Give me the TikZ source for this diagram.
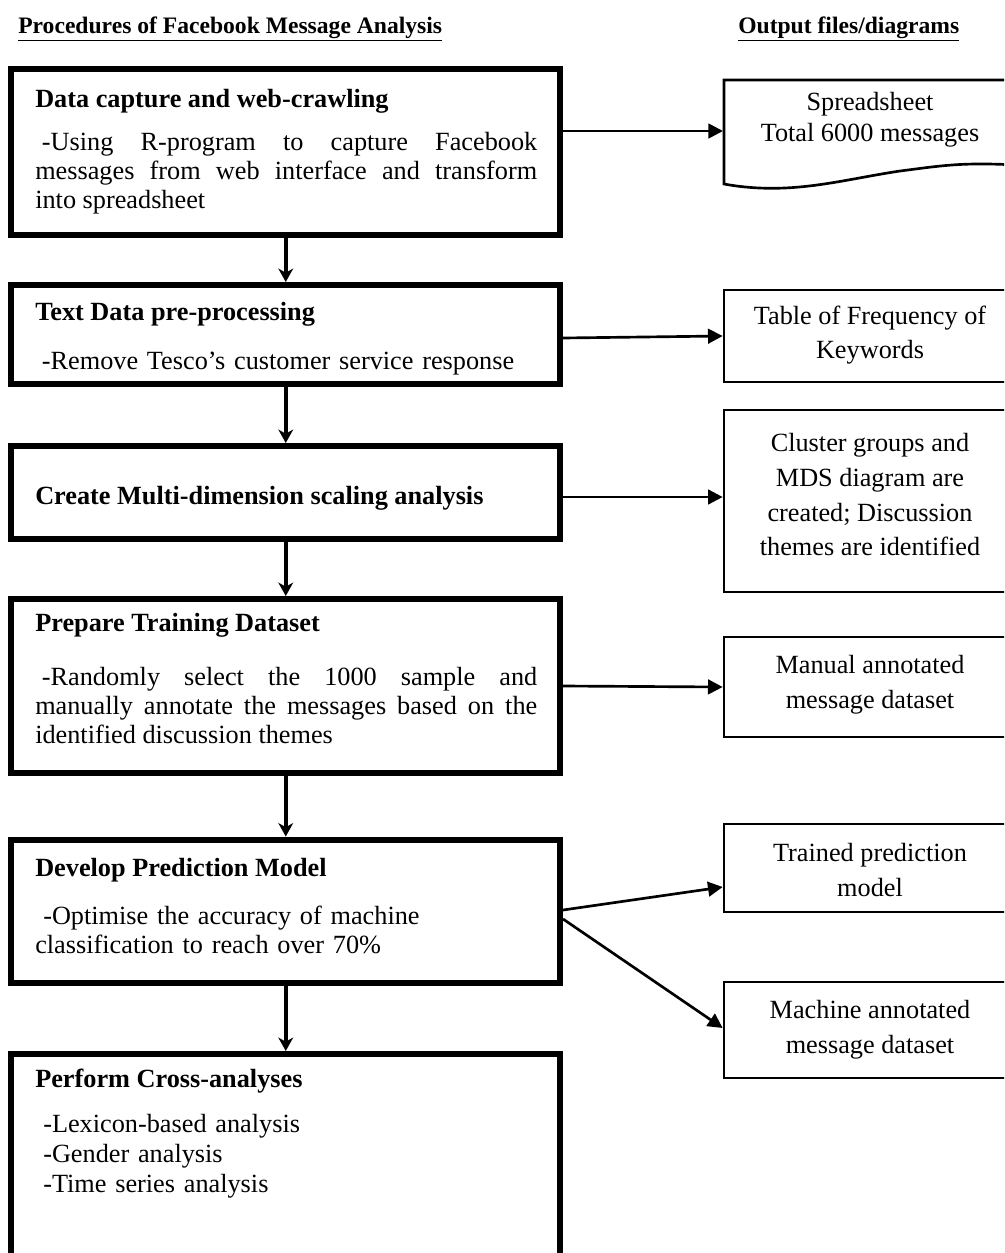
\documentclass[tikz,border=0pt]{standalone}
\usepackage{fontspec}
\setmainfont{Liberation Serif}
\usetikzlibrary{arrows.meta}
\begin{document}
\begin{tikzpicture}[x=0.75pt,y=-0.75pt,
  txt/.style={font=\fontsize{19.7}{22.1}\selectfont, inner sep=0pt},
  ttl/.style={font=\bfseries\fontsize{19.7}{22.1}\selectfont, inner sep=0pt, anchor=base west},
  body/.style={txt, anchor=base west, text width=376.5pt, align=justify},
  lbody/.style={txt, anchor=base west, text width=376.5pt, align=left},
  rtxt/.style={font=\fontsize{19.7}{26}\selectfont, inner sep=0pt, align=center},
  lbox/.style={draw, line width=4.5pt, minimum width=411.4pt, inner sep=0pt},
  rbox/.style={draw, line width=2pt, minimum width=219pt, inner sep=0pt},
  darr/.style={line width=3pt, -{Stealth[length=10pt,width=11pt,inset=3pt]}},
  rarr/.style={line width=2pt, -{Triangle[length=11pt,width=11pt]}},
  hdr/.style={font=\bfseries\fontsize{17.7}{20}\selectfont, inner sep=0pt, anchor=base west}
]
\useasboundingbox (0,0) rectangle (1004,1253);
\clip (0,0) rectangle (1004,1253);

% headers
\node[hdr] (h1) at (18,33) {\underline{Procedures of Facebook Message Analysis}};
\node[hdr] (h2) at (738,33) {\underline{Output files/diagrams}};

% left boxes
\node[lbox, minimum height=124.5pt] (b1) at (285.75,152) {};
\node[lbox, minimum height=74.25pt] (b2) at (285.75,334.5) {};
\node[lbox, minimum height=69.75pt] (b3) at (285.75,492.5) {};
\node[lbox, minimum height=130.5pt] (b4) at (285.75,686) {};
\node[lbox, minimum height=107.25pt] (b5) at (285.75,911) {};
\node[lbox, minimum height=162pt] (b6) at (285.75,1162) {};

% left texts
\node[ttl] (t1) at (35,107) {Data capture and web-crawling};
\node[body] (x1) at (35,150) {\hspace*{5pt}-Using R-program to capture Facebook\linebreak messages from web interface and transform\linebreak into spreadsheet};
\node[ttl] (t2) at (35,320) {Text Data pre-processing};
\node[lbody] (x2) at (35,369) {\hspace*{5pt}-Remove Tesco’s customer service response};
\node[ttl] (t3) at (35,504) {Create Multi-dimension scaling analysis};
\node[ttl] (t4) at (35,631) {Prepare Training Dataset};
\node[body] (x4) at (35,685) {\hspace*{5pt}-Randomly select the 1000 sample and\linebreak manually annotate the messages based on the\linebreak identified discussion themes};
\node[ttl] (t5) at (35,876) {Develop Prediction Model};
\node[lbody] (x5) at (35,924) {\hspace*{6pt}-Optimise the accuracy of machine\\classification to reach over 70\%};
\node[ttl] (t6) at (35,1087) {Perform Cross-analyses};
\node[lbody, font=\fontsize{19.7}{22.5}\selectfont] (x6) at (35,1132) {\hspace*{6pt}-Lexicon-based analysis\\\hspace*{6pt}-Gender analysis\\\hspace*{6pt}-Time series analysis};

% document shape
\draw[line width=2pt] (724,80) -- (1016,80) -- (1016,165)
  .. controls (960,162) and (940,166) .. (900,171)
  .. controls (840,180) and (790,196) .. (724,184) -- cycle;
\node[rtxt, font=\fontsize{19.7}{23.25}\selectfont] (r1) at (870,119.5) {Spreadsheet\\Total 6000 messages};
\coordinate (d1) at (723,131);

% right boxes
\node[rbox, minimum height=69pt] (r2) at (870,336) {};
\node[rbox, minimum height=136.5pt] (r3) at (870,501) {};
\node[rbox, minimum height=75pt] (r4) at (870,687) {};
\node[rbox, minimum height=66pt] (r5) at (870,868) {};
\node[rbox, minimum height=72pt] (r6) at (870,1030) {};

\node[rtxt] (l2) at (870,335) {Table of Frequency of\\Keywords};
\node[rtxt] (l3) at (870,495) {Cluster groups and\\MDS diagram are\\created; Discussion\\themes are identified};
\node[rtxt] (l4) at (870,685) {Manual annotated\\message dataset};
\node[rtxt] (l5) at (870,870) {Trained prediction\\model};
\node[rtxt] (l6) at (870,1029.5) {Machine annotated\\message dataset};

% helper coordinates
\coordinate (y1) at (0,131);
\coordinate (y2s) at (0,338);
\coordinate (y2e) at (0,336);
\coordinate (y3) at (0,497);
\coordinate (y5s) at (0,910);
\coordinate (y5e) at (0,887);
\coordinate (y6s) at (0,919);
\coordinate (y6e) at (0,1028);

% down arrows
\draw[darr] (b1.south) -- (b2.north);
\draw[darr] (b2.south) -- (b3.north);
\draw[darr] (b3.south) -- (b4.north);
\draw[darr] (b4.south) -- (b5.north);
\draw[darr] (b5.south) -- (b6.north);

% right arrows
\draw[rarr] (b1.east |- y1) -- (d1);
\draw[rarr] (b2.east |- y2s) -- (r2.west |- y2e);
\draw[rarr] (b3.east |- y3) -- (r3.west |- y3);
\draw[rarr] (b4.east) -- (r4.west);
\draw[rarr] (b5.east |- y5s) -- (r5.west |- y5e);
\draw[rarr] (b5.east |- y6s) -- (r6.west |- y6e);
\end{tikzpicture}
\end{document}
